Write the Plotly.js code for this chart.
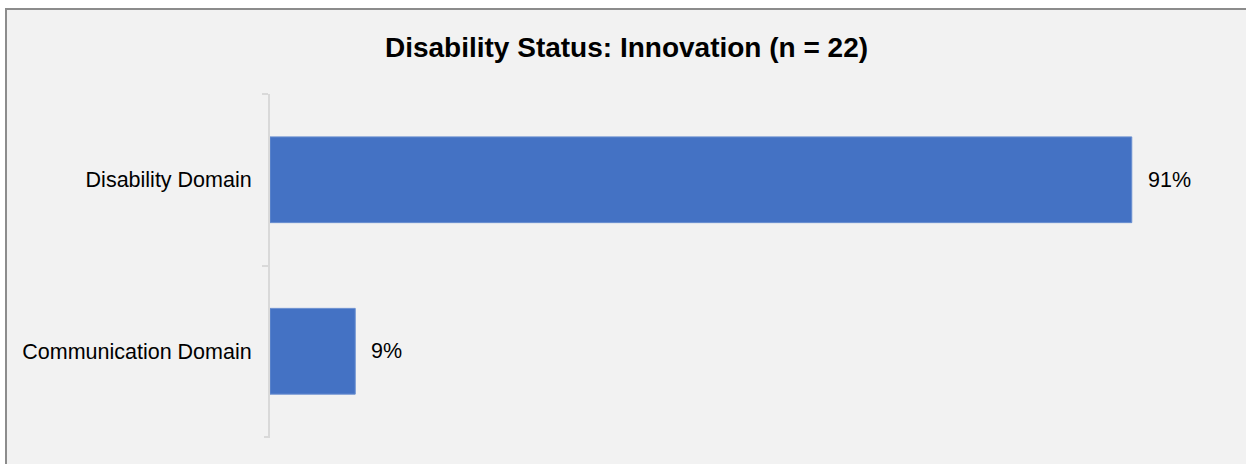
<!DOCTYPE html>
<html>
<head>
<meta charset="utf-8">
<script src="https://cdn.plot.ly/plotly-3.0.1.min.js"></script>
<style>
  html, body { margin: 0; padding: 0; background: #ffffff; overflow: hidden; width: 100%; height: 100%; }
  #bg { position: fixed; left: 5px; top: 8px; right: 0; bottom: 0; background: #f2f2f2; border-top: 2px solid #8c8c8c; border-left: 2px solid #8c8c8c; }
  #chart { position: fixed; left: 7px; top: 10px; width: 1239px; height: 454px; overflow: hidden; }
</style>
</head>
<body>
<div id="bg"></div>
<div id="chart"></div>
<script>
const categories = ['Disability Domain', 'Communication Domain'];
const percentValues = [91, 9];
const chartTitle = 'Disability Status: Innovation (n = 22)';

const fontFamily = 'Arial, "Liberation Sans", sans-serif';

const trace = {
  type: 'bar',
  orientation: 'h',
  y: categories,
  x: percentValues,
  marker: { color: '#4472C4', line: { color: '#6a8fd0', width: 1 } },
  hoverinfo: 'skip'
};

const annotations = categories.map((c, i) => ({
  x: percentValues[i],
  y: c,
  xref: 'x',
  yref: 'y',
  text: percentValues[i] + '%',
  showarrow: false,
  xanchor: 'left',
  yanchor: 'middle',
  xshift: 14,
  font: { family: fontFamily, size: 21.5, color: '#000000' }
}));

const plotWidth = 1239 - 263 - 29;

const layout = {
  width: 1239,
  height: 454,
  margin: { l: 263, r: 29, t: 84, b: 27, pad: 0 },
  paper_bgcolor: 'rgba(0,0,0,0)',
  plot_bgcolor: 'rgba(0,0,0,0)',
  showlegend: false,
  bargap: 0.5,
  title: {
    text: '<b>' + chartTitle + '</b>',
    x: 0.5,
    xanchor: 'center',
    y: 0.917,
    yanchor: 'middle',
    font: { family: fontFamily, size: 28, color: '#000000' }
  },
  xaxis: {
    range: [0, 100],
    visible: false,
    showgrid: false,
    zeroline: false,
    fixedrange: true
  },
  yaxis: {
    type: 'category',
    range: [1.5, -0.5],
    showline: true,
    linecolor: '#d9d9d9',
    linewidth: 2,
    ticks: 'outside',
    tickson: 'boundaries',
    ticklen: 6,
    tickwidth: 2,
    tickcolor: '#d9d9d9',
    showgrid: false,
    zeroline: false,
    ticklabelstandoff: 12,
    tickfont: { family: fontFamily, size: 21.5, color: '#000000' },
    fixedrange: true
  },
  shapes: [{
    type: 'line',
    xref: 'paper', yref: 'paper',
    x0: -6 / plotWidth, x1: 0,
    y0: 0, y1: 0,
    line: { color: '#d9d9d9', width: 2 }
  }],
  annotations: annotations
};

Plotly.newPlot('chart', [trace], layout, { displayModeBar: false, staticPlot: true });
</script>
</body>
</html>
